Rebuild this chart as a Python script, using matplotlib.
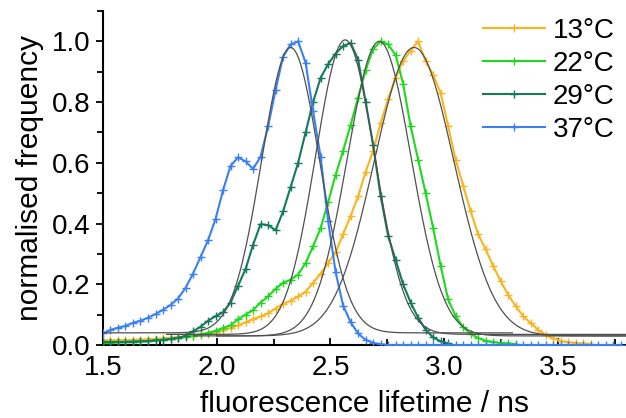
import numpy as np
import matplotlib
matplotlib.use('Agg')
import matplotlib.pyplot as plt
from matplotlib.ticker import MultipleLocator

plt.rcParams['font.family'] = ['Liberation Sans', 'DejaVu Sans']

# lifetime bins (ns), 0.033 ns wide
t = np.arange(70) * 0.033 + 1.5

labels = ['13°C', '22°C', '29°C', '37°C']
colors = ['#F9B520', '#1FD81F', '#137A5C', '#3A80F2']

y13 = [0.015, 0.015, 0.016, 0.016, 0.017, 0.018, 0.019, 0.020, 0.022, 0.024,
       0.026, 0.028, 0.030, 0.033, 0.037, 0.042, 0.048, 0.056, 0.065, 0.075,
       0.085, 0.094, 0.105, 0.120, 0.135, 0.146, 0.160, 0.175, 0.205, 0.235,
       0.270, 0.305, 0.365, 0.425, 0.490, 0.570, 0.640, 0.730, 0.810, 0.880,
       0.935, 0.970, 1.000, 0.935, 0.890, 0.830, 0.720, 0.610, 0.525, 0.440,
       0.365, 0.315, 0.260, 0.210, 0.165, 0.128, 0.095, 0.072, 0.050, 0.033,
       0.022, 0.014, 0.009, 0.007, 0.005, 0.004]
y22 = [0.008, 0.008, 0.009, 0.010, 0.011, 0.012, 0.013, 0.015, 0.017, 0.020,
       0.024, 0.027, 0.031, 0.035, 0.040, 0.047, 0.056, 0.065, 0.085, 0.100,
       0.115, 0.140, 0.160, 0.185, 0.205, 0.215, 0.232, 0.270, 0.325, 0.385,
       0.470, 0.560, 0.640, 0.725, 0.815, 0.905, 0.975, 1.000, 0.990, 0.955,
       0.860, 0.720, 0.610, 0.500, 0.385, 0.260, 0.150, 0.095, 0.058, 0.037,
       0.023, 0.014, 0.010, 0.007, 0.005, 0.003]
y29 = [0.010, 0.010, 0.010, 0.010, 0.011, 0.012, 0.013, 0.015, 0.017, 0.020,
       0.024, 0.030, 0.045, 0.060, 0.080, 0.095, 0.108, 0.140, 0.195, 0.250,
       0.330, 0.398, 0.395, 0.378, 0.440, 0.520, 0.600, 0.700, 0.800, 0.880,
       0.925, 0.960, 0.985, 0.995, 0.940, 0.800, 0.660, 0.490, 0.360, 0.280,
       0.200, 0.140, 0.090, 0.050, 0.025, 0.012, 0.005]
y37 = [0.038, 0.050, 0.057, 0.063, 0.073, 0.080, 0.090, 0.102, 0.116, 0.132,
       0.153, 0.188, 0.235, 0.290, 0.345, 0.415, 0.510, 0.590, 0.618, 0.605,
       0.580, 0.620, 0.720, 0.840, 0.950, 0.990, 1.000, 0.930, 0.770, 0.620,
       0.410, 0.240, 0.130, 0.075, 0.038, 0.017, 0.007, 0.003] + [0.0] * 32
series = [y13, y22, y29, y37]

# gaussian fits: centre, sigma, amplitude, offset, fitted range
fit_centre = [2.868, 2.715, 2.565, 2.325]
fit_sigma = [0.175, 0.140, 0.130, 0.127]
fit_amp = [0.95, 0.97, 0.97, 0.94]
fit_base = [0.03, 0.03, 0.035, 0.04]
fit_range = [(2.0, 3.8), (1.9, 3.8), (1.78, 3.8), (1.5, 3.3)]

fig = plt.figure(figsize=(6.26, 4.18), dpi=100)
ax = fig.add_axes([0.1645, 0.1746, 0.8355, 0.799])

for y, c, lab in zip(series, colors, labels):
    ax.plot(t[:len(y)], y, color=c, lw=1.5, marker='+', ms=6, mew=1,
            label=lab, zorder=3)

for c0, s, a, b, (x0, x1) in zip(fit_centre, fit_sigma, fit_amp, fit_base, fit_range):
    xx = np.linspace(x0, x1, 400)
    ax.plot(xx, b + a * np.exp(-(xx - c0) ** 2 / (2 * s ** 2)),
            color='#505050', lw=0.9, zorder=4)

ax.set_xlim(1.5, 3.8)
ax.set_ylim(0, 1.1)
ax.spines['top'].set_visible(False)
ax.spines['right'].set_visible(False)
ax.spines['left'].set_linewidth(1.5)
ax.spines['bottom'].set_linewidth(1.5)
ax.xaxis.set_major_locator(MultipleLocator(0.5))
ax.xaxis.set_minor_locator(MultipleLocator(0.25))
ax.yaxis.set_major_locator(MultipleLocator(0.2))
ax.yaxis.set_minor_locator(MultipleLocator(0.1))
ax.tick_params(axis='x', which='both', direction='in', labelsize=20, pad=7)
ax.tick_params(axis='y', which='both', direction='out', labelsize=20, pad=4)
ax.tick_params(which='major', length=5, width=1.3)
ax.tick_params(which='minor', length=4, width=1.3)
ax.xaxis.set_major_formatter(matplotlib.ticker.FormatStrFormatter('%.1f'))
ax.yaxis.set_major_formatter(matplotlib.ticker.FormatStrFormatter('%.1f'))

ax.set_xlabel('fluorescence lifetime / ns', fontsize=21.5, labelpad=7)
ax.set_ylabel('normalised frequency', fontsize=21.5, labelpad=6)

ax.legend(loc='upper right', bbox_to_anchor=(1.0, 1.012), frameon=False,
          fontsize=20, numpoints=1, handlelength=2.2, handletextpad=0.3,
          labelspacing=0.25, borderaxespad=0.0)

fig.savefig('out.png', dpi=100)
